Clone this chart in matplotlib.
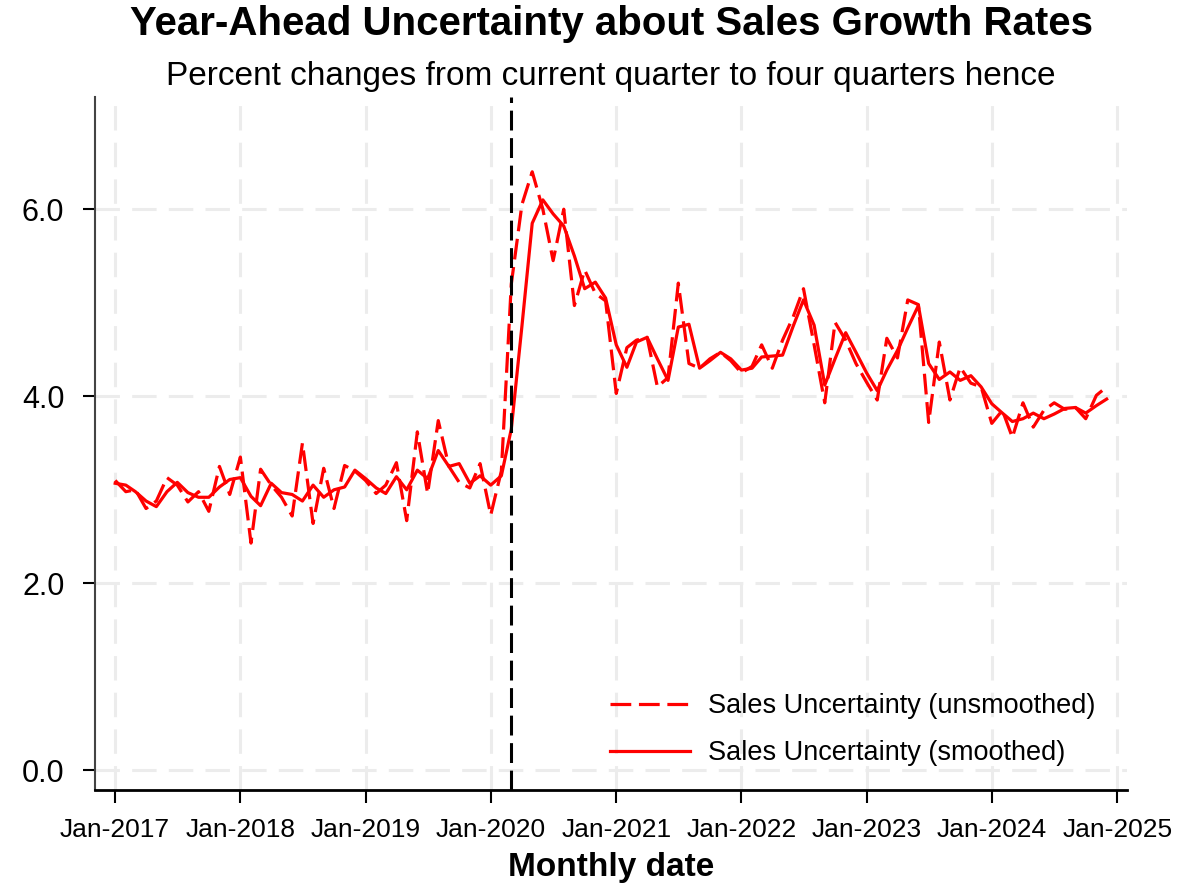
import matplotlib
matplotlib.use("Agg")
import matplotlib.pyplot as plt
import pandas as pd

plt.rcParams['font.family'] = ['Liberation Sans', 'DejaVu Sans']

# ---- data (monthly, Jan-2017 .. Dec-2024) ----
start_month = "2017-01-01"
n_months = 96

unsmoothed = [
    3.10, 2.98, 3.00, 2.80, 2.88, 3.13, 3.05, 2.87, 2.98, 2.77, 3.25, 2.95,   # 2017
    3.35, 2.43, 3.22, 3.05, 2.92, 2.72, 3.50, 2.64, 3.23, 2.80, 3.26, 3.20,   # 2018
    3.10, 2.96, 3.05, 3.29, 2.67, 3.62, 2.96, 3.74, 3.25, 3.08, 3.02, 3.28,   # 2019
    2.73, 3.20, 5.20, 6.05, 6.40, 6.00, 5.45, 6.00, 4.97, 5.35, 5.10, 5.02,   # 2020
    4.03, 4.52, 4.60, 4.63, 4.10, 4.20, 5.21, 4.35, 4.30, 4.40, 4.47, 4.38,   # 2021
    4.25, 4.32, 4.55, 4.30, 4.60, 4.85, 5.15, 4.55, 3.93, 4.79, 4.60, 4.35,   # 2022
    4.15, 3.96, 4.62, 4.41, 5.03, 4.98, 3.72, 4.58, 3.96, 4.31, 4.14, 4.10,   # 2023
    3.71, 3.85, 3.56, 3.93, 3.67, 3.85, 3.93, 3.86, 3.88, 3.76, 4.01, 4.10,   # 2024
]

smoothed = [
    3.07, 3.05, 2.98, 2.88, 2.82, 2.98, 3.08, 2.97, 2.92, 2.92, 3.03, 3.11,   # 2017
    3.13, 2.93, 2.83, 3.07, 2.97, 2.95, 2.88, 3.05, 2.92, 3.00, 3.03, 3.21,   # 2018
    3.12, 3.02, 2.96, 3.14, 3.00, 3.21, 3.12, 3.42, 3.25, 3.28, 3.07, 3.15,   # 2019
    3.05, 3.15, 3.65, 4.75, 5.85, 6.10, 5.95, 5.82, 5.50, 5.15, 5.22, 5.05,   # 2020
    4.55, 4.31, 4.58, 4.63, 4.40, 4.17, 4.74, 4.77, 4.30, 4.38, 4.47, 4.40,   # 2021
    4.28, 4.30, 4.42, 4.43, 4.44, 4.75, 5.03, 4.76, 4.12, 4.40, 4.68, 4.47,   # 2022
    4.25, 4.06, 4.28, 4.49, 4.73, 4.97, 4.35, 4.18, 4.26, 4.17, 4.22, 4.10,   # 2023
    3.92, 3.82, 3.73, 3.76, 3.82, 3.76, 3.81, 3.87, 3.88, 3.82, 3.90, 3.97,   # 2024
]

tick_years = [2017, 2018, 2019, 2020, 2021, 2022, 2023, 2024, 2025]
tick_labels = [f"Jan-{y}" for y in tick_years]
y_ticks = [0.0, 2.0, 4.0, 6.0]
event_date = "2020-03-01"

dates = pd.date_range(start_month, periods=n_months, freq="MS")
tick_dates = [pd.Timestamp(f"{y}-01-01") for y in tick_years]

# ---- figure ----
fig = plt.figure(figsize=(11.81, 8.84), dpi=100)
ax = fig.add_axes([0.0804, 0.1063, 0.8735, 0.7840])

red = "#ff0000"
ax.plot(dates, unsmoothed, color=red, lw=2.3, linestyle=(0, (6.5, 2.4)),
        label="Sales Uncertainty (unsmoothed)", zorder=3)
ax.plot(dates, smoothed, color=red, lw=2.3, linestyle="-",
        label="Sales Uncertainty (smoothed)", zorder=4)

ax.axvline(pd.Timestamp(event_date), color="black", lw=2.2,
           linestyle=(0, (6.5, 2.5)), zorder=5)

ax.set_xlim(pd.Timestamp("2016-11-03"), pd.Timestamp("2025-01-28"))
ax.set_ylim(-0.21, 7.2)

ax.set_xticks(tick_dates)
ax.set_xticklabels(tick_labels, fontsize=19)
ax.set_yticks(y_ticks)
ax.set_yticklabels([f"{v:.1f}" for v in y_ticks], fontsize=22)

ax.grid(True, color="#ececec", lw=2.2, linestyle=(0, (8, 4)), zorder=0)
ax.set_axisbelow(True)

for s in ["top", "right"]:
    ax.spines[s].set_visible(False)
ax.spines["left"].set_linewidth(1.5)
ax.spines["left"].set_color("#444444")
ax.spines["bottom"].set_linewidth(2.0)

ax.tick_params(axis="x", direction="out", length=9, width=1.5, pad=11)
ax.tick_params(axis="y", direction="out", length=9, width=1.5, pad=13)

ax.set_xlabel("Monthly date", fontsize=24, fontweight="bold", labelpad=7)

fig.text(0.5175, 0.973, "Year-Ahead Uncertainty about Sales Growth Rates",
         ha="center", va="center", fontsize=29, fontweight="bold")
fig.text(0.5175, 0.914, "Percent changes from current quarter to four quarters hence",
         ha="center", va="center", fontsize=24)

leg = ax.legend(loc="upper left", bbox_to_anchor=(0.499, 0.140), frameon=False,
                fontsize=19.5, handlelength=2.95, handletextpad=0.68,
                labelspacing=0.78, borderpad=0, borderaxespad=0)

fig.savefig("out.png", dpi=100, facecolor="white")
